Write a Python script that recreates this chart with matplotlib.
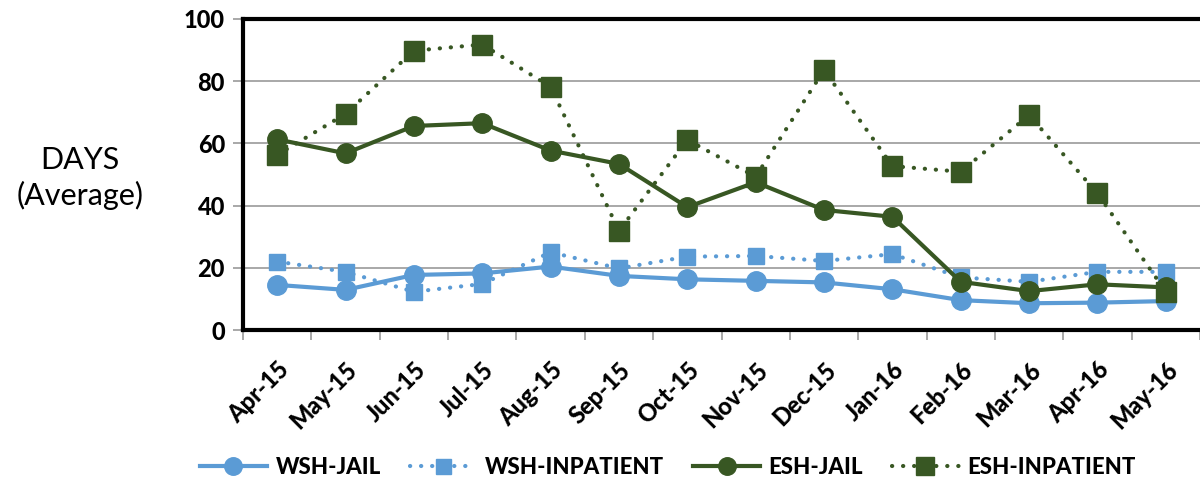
import matplotlib.pyplot as plt
import matplotlib.transforms as mtransforms
import numpy as np

months = ['Apr-15', 'May-15', 'Jun-15', 'Jul-15', 'Aug-15', 'Sep-15', 'Oct-15',
          'Nov-15', 'Dec-15', 'Jan-16', 'Feb-16', 'Mar-16', 'Apr-16', 'May-16']

wsh_jail = [14.5, 12.9, 17.7, 18.2, 20.4, 17.4, 16.3, 15.8, 15.3, 13.1, 9.6, 8.6, 8.8, 9.3]
wsh_inpatient = [22.0, 18.7, 12.3, 14.8, 25.0, 19.8, 23.6, 23.8, 22.2, 24.4, 16.9, 15.5, 18.7, 18.7]
esh_jail = [61.3, 56.8, 65.6, 66.5, 57.7, 53.4, 39.5, 47.5, 38.6, 36.4, 15.5, 12.5, 14.7, 13.7]
esh_inpatient = [56.3, 69.5, 89.8, 91.8, 78.2, 31.9, 61.1, 49.3, 83.6, 52.7, 50.9, 69.1, 43.9, 12.3]

blue = '#5B9BD5'
green = '#385723'
dots = (0, (0.05, 2.6))

plt.rcParams['font.family'] = ['Lato', 'DejaVu Sans']

fig = plt.figure(figsize=(12, 4.86), dpi=100)
ax = fig.add_axes([243/1200, 1 - 330/486, 1 - 243/1200, 311/486])

x = np.arange(len(months))
ax.plot(x, wsh_jail, color=blue, lw=3, marker='o', ms=14, label='WSH-JAIL')
ax.plot(x, wsh_inpatient, color=blue, lw=3, ls=dots, dash_capstyle='round',
        marker='s', ms=12, label='WSH-INPATIENT')
ax.plot(x, esh_jail, color=green, lw=3, marker='o', ms=14, label='ESH-JAIL')
ax.plot(x, esh_inpatient, color=green, lw=3, ls=dots, dash_capstyle='round',
        marker='s', ms=14, label='ESH-INPATIENT')

ax.set_xlim(-0.5, 13.5)
ax.set_ylim(0, 100)
ax.set_yticks([0, 20, 40, 60, 80, 100])
ax.grid(axis='y', color='#9a9a9a', lw=1.2)
ax.set_axisbelow(True)

ax.set_xticks(x)
ax.set_xticklabels(months, rotation=45, ha='right', va='center', rotation_mode='anchor',
                   fontsize=17, fontweight='black')
ax.set_xticks(np.arange(-0.5, 13.6, 1), minor=True)
ax.tick_params(axis='x', which='major', length=0, pad=26)
ax.tick_params(axis='x', which='minor', length=7, color='#9a9a9a', width=1.2)
ax.tick_params(axis='y', length=7, color='#9a9a9a', width=1.2, labelsize=17, pad=6)
for lab in ax.get_yticklabels():
    lab.set_fontweight('black')
offset = mtransforms.ScaledTranslation(0.08, 0, fig.dpi_scale_trans)
for lab in ax.get_xticklabels():
    lab.set_transform(lab.get_transform() + offset)

for s in ['top', 'left', 'bottom']:
    ax.spines[s].set_linewidth(3)
    ax.spines[s].set_color('black')
ax.spines['right'].set_visible(False)

fig.text(80/1200, 1 - 178/486, 'DAYS\n(Average)', ha='center', va='center',
         fontsize=22, linespacing=1.3)

leg = fig.legend(loc='center', bbox_to_anchor=(668/1200, 1 - 467/486), ncol=4,
                 frameon=False, prop={'weight': 'black', 'size': 16},
                 handlelength=3.0, columnspacing=1.3, handletextpad=0.4, markerscale=0.9)

fig.savefig('out.png', dpi=100)
